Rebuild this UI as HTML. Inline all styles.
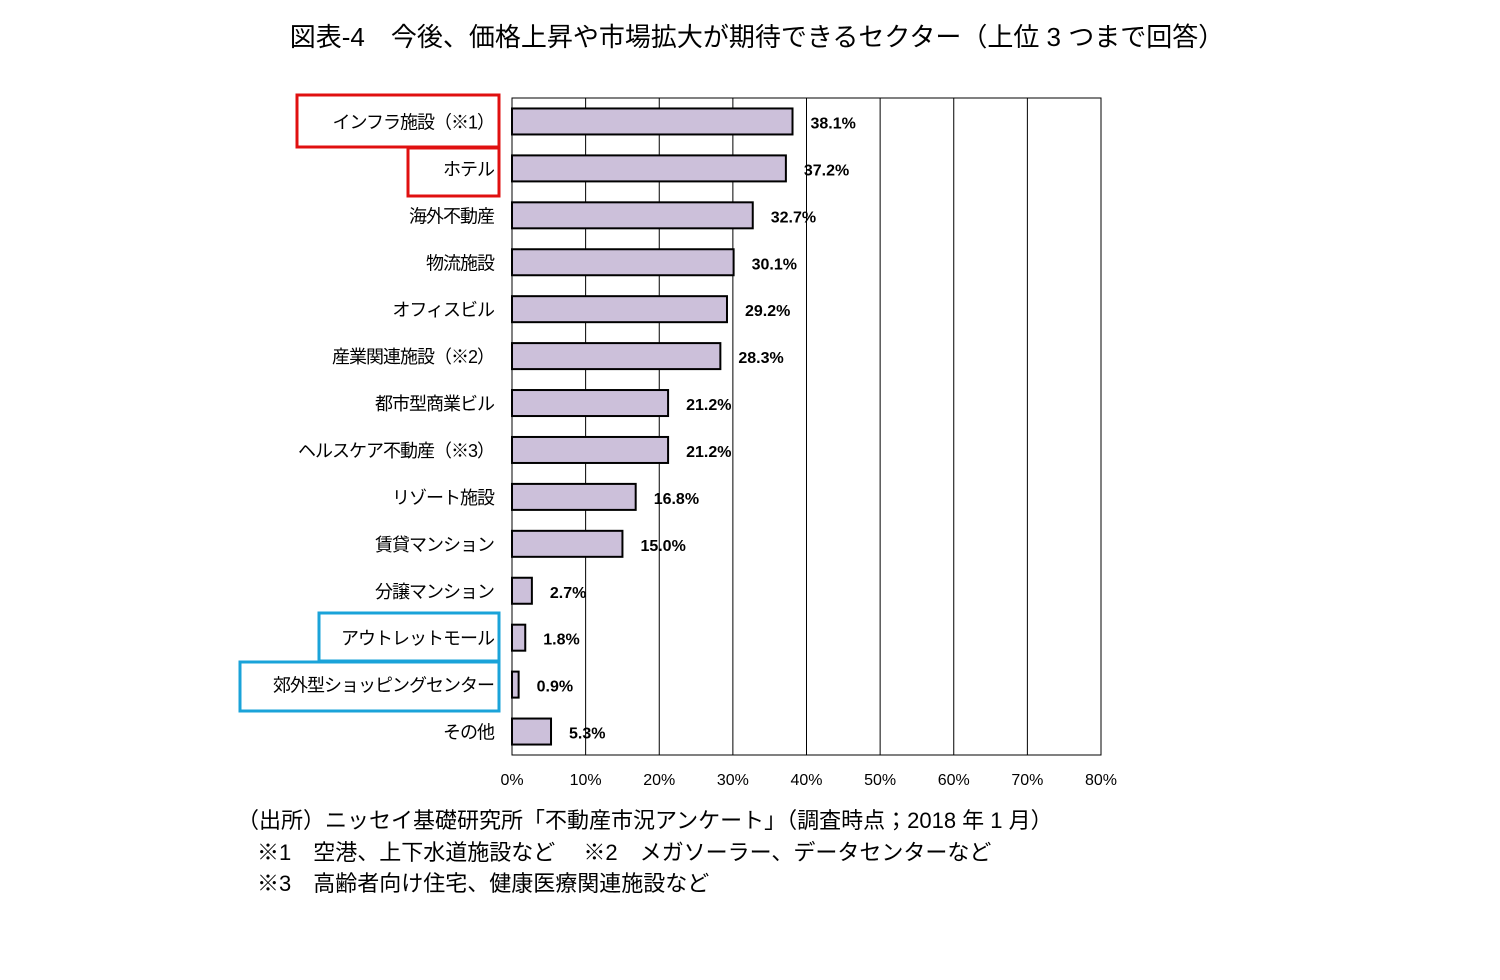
<!DOCTYPE html>
<html><head><meta charset="utf-8">
<style>
body{margin:0;background:#fff;}
svg text{font-family:"Liberation Sans","Noto Sans CJK JP",sans-serif;}
</style></head>
<body>
<svg width="1500" height="975" xmlns="http://www.w3.org/2000/svg">
<text x="757" y="46" text-anchor="middle" font-size="26" fill="#000">図表-4　今後、価格上昇や市場拡大が期待できるセクター（上位 3 つまで回答）</text>
<g id="plot"></g>
<rect x="297" y="95" width="202" height="52" fill="none" stroke="#e01010" stroke-width="3"/>
<rect x="408" y="148" width="91" height="48" fill="none" stroke="#e01010" stroke-width="3"/>
<rect x="319" y="613" width="180" height="48" fill="none" stroke="#1aa3d9" stroke-width="3"/>
<rect x="240" y="662" width="259" height="49" fill="none" stroke="#1aa3d9" stroke-width="3"/>
<text x="237" y="828" font-size="22">（出所）ニッセイ基礎研究所「不動産市況アンケート」（調査時点；2018 年 1 月）</text>
<text x="257" y="860" font-size="22">※1　空港、上下水道施設など　 ※2　メガソーラー、データセンターなど</text>
<text x="257" y="891" font-size="22">※3　高齢者向け住宅、健康医療関連施設など</text>
</svg>
<script>
const categories=["インフラ施設（※1）","ホテル","海外不動産","物流施設","オフィスビル","産業関連施設（※2）","都市型商業ビル","ヘルスケア不動産（※3）","リゾート施設","賃貸マンション","分譲マンション","アウトレットモール","郊外型ショッピングセンター","その他"];
const values=[38.1,37.2,32.7,30.1,29.2,28.3,21.2,21.2,16.8,15.0,2.7,1.8,0.9,5.3];
const ticks=[0,10,20,30,40,50,60,70,80];
const NS="http://www.w3.org/2000/svg";
const g=document.getElementById('plot');
const L=512,R=1101,T=98,B=755,MAX=80;
const x=v=>L+(v/MAX)*(R-L);
const band=(B-T)/categories.length;
const y=i=>T+band*(i+0.5);
function mk(tag,a){const e=document.createElementNS(NS,tag);for(const k in a)e.setAttribute(k,a[k]);g.appendChild(e);return e;}
ticks.forEach(t=>{
 if(t>0){const l=mk('line',{x1:x(t),x2:x(t),y1:T,y2:B,stroke:'#000','stroke-width':1});
 
 }
 const tx=mk('text',{x:x(t),y:785,'text-anchor':'middle','font-size':16});
 tx.textContent=t+'%';
 
 
});
const fr=mk('rect',{x:L,y:T,width:R-L,height:B-T,fill:'none',stroke:'#000','stroke-width':1});


categories.forEach((c,i)=>{
 const cy=y(i);
 const b=mk('rect',{x:L,y:cy-13,width:x(values[i])-L,height:26,fill:'#ccc0da',stroke:'#000','stroke-width':2});
 
 
 const lb=mk('text',{x:494,y:cy+7,'text-anchor':'end','font-size':18,'letter-spacing':-1});
 lb.textContent=c;
 
 
 const vl=mk('text',{x:x(values[i])+18,y:cy+7,'font-size':16,'font-weight':'bold'});
 vl.textContent=values[i].toFixed(1)+'%';
 
 
});
</script>
</body></html>
